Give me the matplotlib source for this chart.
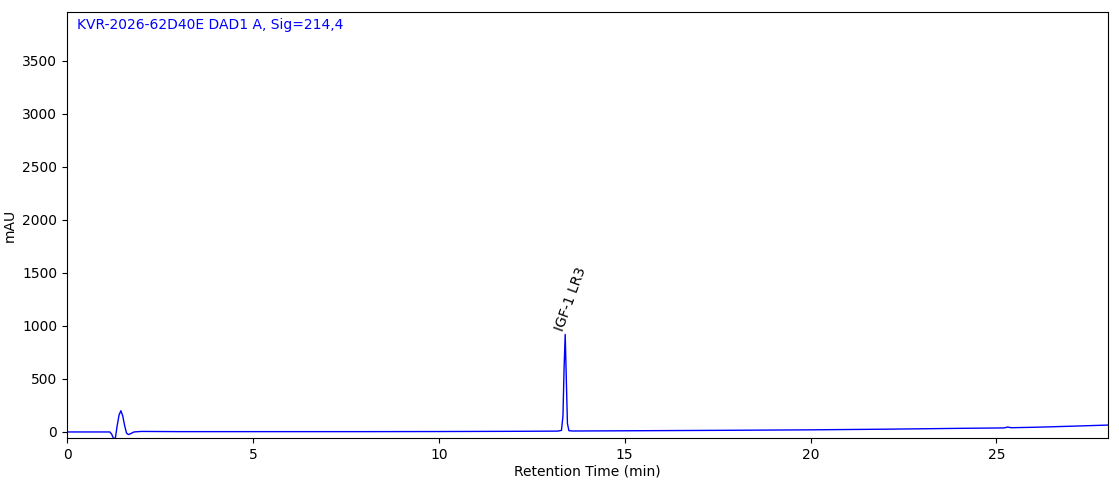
import matplotlib
matplotlib.use("Agg")
import matplotlib.pyplot as plt

time_min = [0.0, 1.15, 1.2, 1.25, 1.3, 1.35, 1.4, 1.45, 1.5, 1.55, 1.6, 1.65, 1.72, 1.8, 2.0, 3.0,
            5.0, 8.0, 10.0, 12.0, 13.2, 13.3, 13.34, 13.37, 13.4, 13.43, 13.46, 13.5, 13.6,
            15.0, 18.0, 20.0, 22.0, 24.0, 25.2, 25.3, 25.4, 26.0, 27.0, 28.0]
mau = [0, 0, -20, -60, -60, 60, 160, 200, 150, 60, -10, -25, -15, 0, 5, 3,
       3, 3, 4, 6, 8, 15, 150, 600, 920, 500, 80, 12, 9,
       11, 16, 20, 26, 34, 38, 46, 40, 44, 54, 65]
peak_time = 13.4
peak_label = "IGF-1 LR3"
title = "KVR-2026-62D40E DAD1 A, Sig=214,4"

fig = plt.figure(figsize=(11.19, 4.99), dpi=100)
ax = fig.add_axes([67/1119, 61/499, (1108-67)/1119, (438-12)/499])
ax.plot(time_min, mau, color="blue", lw=1)
ax.set_xlim(0, 28)
ax.set_ylim(-57, 3960)
ax.set_xticks([0, 5, 10, 15, 20, 25])
ax.set_yticks([0, 500, 1000, 1500, 2000, 2500, 3000, 3500])
ax.set_xlabel("Retention Time (min)", labelpad=2)
ax.set_ylabel("mAU")
ax.text(0.01, 0.985, title, transform=ax.transAxes, color="blue", va="top", ha="left", fontsize=10)
ax.text(peak_time + 0.02, 930, peak_label, rotation=70, ha="left", va="bottom", fontsize=10,
        rotation_mode="anchor")
fig.savefig("out.png", dpi=100)
